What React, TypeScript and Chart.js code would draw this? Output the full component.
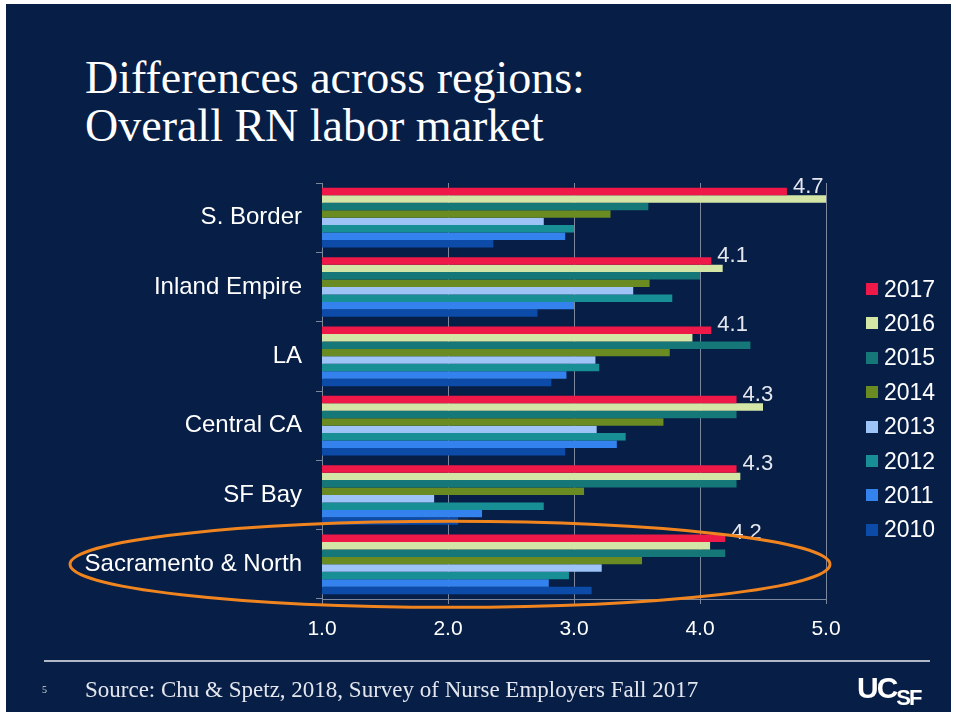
import React, { useEffect, useRef } from "react";
import { Chart, registerables } from "chart.js";

Chart.register(...registerables);

const REGIONS = ["S. Border", "Inland Empire", "LA", "Central CA", "SF Bay", "Sacramento & North"];
const YEARS = ["2017", "2016", "2015", "2014", "2013", "2012", "2011", "2010"];
const V2017 = [4.69, 4.09, 4.09, 4.29, 4.29, 4.2];
const V2016 = [5.0, 4.18, 3.94, 4.5, 4.32, 4.08];
const V2015 = [3.59, 4.0, 4.4, 4.29, 4.29, 4.2];
const V2014 = [3.29, 3.6, 3.76, 3.71, 3.08, 3.54];
const V2013 = [2.76, 3.47, 3.17, 3.18, 1.89, 3.22];
const V2012 = [3.0, 3.78, 3.2, 3.41, 2.76, 2.96];
const V2011 = [2.93, 3.0, 2.94, 3.34, 2.27, 2.8];
const V2010 = [2.36, 2.71, 2.82, 2.93, 2.08, 3.14];
const SERIES = [V2017, V2016, V2015, V2014, V2013, V2012, V2011, V2010];
const X_TICKS = ["1.0", "2.0", "3.0", "4.0", "5.0"];
const COLORS = ["#EE1849", "#D4E6A5", "#167778", "#6A8A22", "#9DC3F7", "#178F94", "#3482EE", "#0D4BA8"];

const TITLE = ["Differences across regions:", "Overall RN labor market"];
const SOURCE = "Source: Chu & Spetz, 2018, Survey of Nurse Employers Fall 2017";

const NAVY = "#071E46";
const GRID = "#7c879d";
const SANS = "'Liberation Sans', Arial, sans-serif";
const SERIF = "'Liberation Serif', 'Times New Roman', serif";

const annotPlugin = {
  id: "annot",
  afterDatasetsDraw(chart: any) {
    const ctx = chart.ctx;
    const meta = chart.getDatasetMeta(0);
    ctx.save();
    ctx.font = `22px ${SANS}`;
    ctx.fillStyle = "#e4e7ee";
    ctx.textBaseline = "middle";
    ctx.textAlign = "left";
    meta.data.forEach((bar: any, i: number) => {
      ctx.fillText(V2017[i].toFixed(1), bar.x + 6, bar.y - 5);
    });
    ctx.restore();
  },
  afterDraw(chart: any) {
    const ctx = chart.ctx;
    const xs = chart.scales.x;
    const ys = chart.scales.y;
    const cy = ys.getPixelForValue(REGIONS.length - 1);
    const left = xs.getPixelForValue(1) - 252;
    const right = xs.getPixelForValue(5) + 4;
    ctx.save();
    ctx.strokeStyle = "#F0851F";
    ctx.lineWidth = 3;
    ctx.beginPath();
    ctx.ellipse((left + right) / 2, cy, (right - left) / 2, 43, 0, 0, Math.PI * 2);
    ctx.stroke();
    ctx.restore();
  },
};

function ChartCanvas() {
  const ref = useRef<HTMLCanvasElement | null>(null);
  useEffect(() => {
    if (!ref.current) return;
    const chart = new Chart(ref.current, {
      type: "bar",
      data: {
        labels: REGIONS,
        datasets: YEARS.map((y, i) => ({
          label: y,
          data: SERIES[i],
          backgroundColor: COLORS[i],
          borderWidth: 0,
          barPercentage: 1,
          categoryPercentage: 0.86,
        })),
      },
      options: {
        indexAxis: "y",
        animation: false,
        responsive: false,
        maintainAspectRatio: false,
        layout: { padding: { top: 183, right: 130, left: 0, bottom: 0 } },
        plugins: { legend: { display: false }, tooltip: { enabled: false }, title: { display: false } },
        scales: {
          x: {
            min: 1,
            max: 5,
            ticks: {
              stepSize: 1,
              color: "#ffffff",
              font: { size: 21, family: SANS },
              padding: 13,
              callback: (v: any) => X_TICKS[Math.round(Number(v)) - 1] ?? "",
            },
            grid: { color: GRID, tickLength: 5, drawTicks: true },
            border: { color: GRID },
            afterFit: (s: any) => {
              s.height = 124;
            },
          },
          y: {
            ticks: { color: "#ffffff", font: { size: 24, family: SANS }, padding: 14 },
            grid: { drawOnChartArea: false, tickLength: 6, color: GRID, offset: true },
            border: { color: GRID },
            afterFit: (s: any) => {
              s.width = 322;
            },
          },
        },
      },
      plugins: [annotPlugin],
    } as any);
    return () => chart.destroy();
  }, []);
  return (
    <canvas
      ref={ref}
      width={956}
      height={723}
      style={{ position: "absolute", left: 0, top: 0, width: 956, height: 723 }}
    />
  );
}

export default function App() {
  return (
    <div style={{ position: "absolute", left: 0, top: 0, width: 956, height: 723, background: "#ffffff", overflow: "hidden" }}>
      <div style={{ position: "absolute", left: 6, top: 4, width: 945, height: 708, background: NAVY }} />
      <div
        style={{
          position: "absolute",
          left: 85,
          top: 54,
          color: "#ffffff",
          fontFamily: SERIF,
          fontSize: 46,
          lineHeight: "48px",
          whiteSpace: "nowrap",
        }}
      >
        {TITLE.map((t) => (
          <div key={t}>{t}</div>
        ))}
      </div>
      <ChartCanvas />
      {YEARS.map((y, i) => (
        <div
          key={y}
          style={{
            position: "absolute",
            left: 866,
            top: 289 + i * 34.4 - 15,
            height: 30,
            display: "flex",
            alignItems: "center",
            color: "#ffffff",
            fontFamily: SANS,
            fontSize: 23,
          }}
        >
          <div style={{ width: 12, height: 12, background: COLORS[i], marginRight: 6 }} />
          <span>{y}</span>
        </div>
      ))}
      <div style={{ position: "absolute", left: 44, top: 660, width: 886, height: 2, background: "#b1b9c8" }} />
      <div style={{ position: "absolute", left: 42, top: 684, color: "#d0d5df", fontFamily: SERIF, fontSize: 10, lineHeight: "12px" }}>5</div>
      <div
        style={{
          position: "absolute",
          left: 85,
          top: 677,
          color: "#e4e7ee",
          fontFamily: SERIF,
          fontSize: 23,
          lineHeight: "26px",
          whiteSpace: "nowrap",
        }}
      >
        {SOURCE}
      </div>
      <div
        style={{
          position: "absolute",
          left: 857,
          top: 672,
          color: "#ffffff",
          fontFamily: "'Liberation Sans Narrow', 'Liberation Sans', Arial, sans-serif",
          fontWeight: 700,
          whiteSpace: "nowrap",
          letterSpacing: -2,
        }}
      >
        <span style={{ fontSize: 30, lineHeight: "32px" }}>UC</span>
        <span style={{ fontSize: 22, lineHeight: "22px", position: "relative", top: 7 }}>SF</span>
      </div>
    </div>
  );
}
